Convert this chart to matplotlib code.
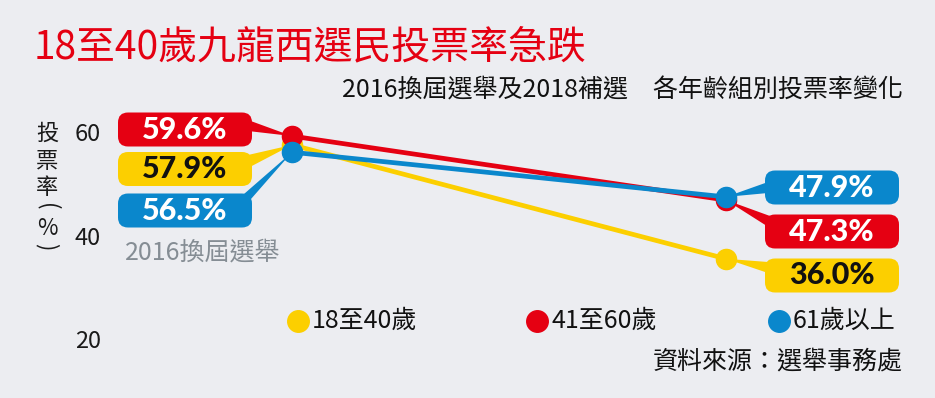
import matplotlib
matplotlib.use("Agg")
import matplotlib.pyplot as plt
from matplotlib.patches import FancyBboxPatch, Polygon

# ---- data ----
groups = ["18至40歲", "41至60歲", "61歲以上"]
colors = ["#fccf00", "#e50012", "#0a87cc"]
text_colors = ["#111111", "#ffffff", "#ffffff"]
turnout_2016 = [57.9, 59.6, 56.5]
turnout_2018 = [36.0, 47.3, 47.9]
x_pos = [0, 1]
y_ticks = [20, 40, 60]

# ---- layout helpers (pixel -> data mapping of the full-figure axes) ----
W, H = 935, 398
X0_PX, PX_PER_X = 292, 434
Y60_PX, PX_PER_Y = 134, 5.2


def dx(px):
    return (px - X0_PX) / PX_PER_X


def dy(py):
    return 60 - (py - Y60_PX) / PX_PER_Y


plt.rcParams["font.family"] = ["Noto Sans CJK TC", "DejaVu Sans"]

fig = plt.figure(figsize=(W / 100, H / 100), dpi=100, facecolor="#ecedf1")
ax = fig.add_axes([0, 0, 1, 1])
ax.set_xlim(dx(0), dx(W))
ax.set_ylim(dy(H), dy(0))
ax.axis("off")

# lines + dots
for i in range(len(groups)):
    ax.plot(x_pos, [turnout_2016[i], turnout_2018[i]], color=colors[i],
            lw=3.4, marker="o", ms=14.5, solid_capstyle="round", zorder=5 + i)


def callout(x, y, cx_px, cy_px, base_px, edge_px, i):
    w, h = 134, 34
    box = FancyBboxPatch((dx(cx_px - w / 2), dy(cy_px + h / 2)), w / PX_PER_X, h / PX_PER_Y,
                         boxstyle=f"round,pad=0,rounding_size={10 / PX_PER_X}",
                         mutation_aspect=PX_PER_X / PX_PER_Y,
                         fc=colors[i], ec="none", zorder=3)
    ax.add_patch(box)
    wedge = Polygon([(dx(edge_px), dy(base_px[0])), (dx(edge_px), dy(base_px[1])), (x, y)],
                    closed=True, fc=colors[i], ec="none", zorder=3)
    ax.add_patch(wedge)
    ax.text(dx(cx_px), dy(cy_px), f"{y:.1f}%", ha="center", va="center",
            fontsize=22, fontweight="black", family=["Lato", "DejaVu Sans"],
            color=text_colors[i], zorder=4)


# left callouts (2016)
callout(x_pos[0], turnout_2016[1], 185, 129.5, (120, 131), 248, 1)
callout(x_pos[0], turnout_2016[0], 185, 169, (155, 168), 248, 0)
callout(x_pos[0], turnout_2016[2], 185, 210.5, (194, 207), 244, 2)
# right callouts (2018)
callout(x_pos[1], turnout_2018[2], 832, 187.5, (182, 193), 768, 2)
callout(x_pos[1], turnout_2018[1], 832, 231.5, (216, 228), 770, 1)
callout(x_pos[1], turnout_2018[0], 832, 275.5, (262, 273), 768, 0)

# y ticks
for t in y_ticks:
    ax.text(dx(88), t, str(t), ha="center", va="center", fontsize=17, color="#1a1a1a")

# y label, stacked vertically (brackets turned to vertical form)
for ch, py, rot in zip(["投", "票", "率", "(", "%", ")"],
                       [133, 161, 187, 207, 228, 247],
                       [0, 0, 0, -90, 0, -90]):
    ax.text(dx(47), dy(py), ch, ha="center", va="center", fontsize=16,
            color="#1a1a1a", rotation=rot)

ax.text(dx(125), dy(252), "2016換屆選舉", ha="left", va="center", fontsize=18, color="#858d94")

# titles
ax.text(dx(34), dy(47), "18至40歲九龍西選民投票率急跌", ha="left", va="center",
        fontsize=28, color="#e50012")
ax.text(dx(903), dy(90), "2016換屆選舉及2018補選\u3000各年齡組別投票率變化", ha="right",
        va="center", fontsize=18, color="#111111", fontweight="medium")

# legend
for i, (lx, tx) in enumerate([(298, 312), (537, 551), (779, 793)]):
    ax.plot(dx(lx), dy(321), marker="o", ms=15.5, color=colors[i], ls="none")
    ax.text(dx(tx), dy(321), groups[i], ha="left", va="center", fontsize=18, color="#111111")

ax.text(dx(903), dy(361), "資料來源：選舉事務處", ha="right", va="center",
        fontsize=18, color="#111111")

fig.savefig("out.png", dpi=100, facecolor=fig.get_facecolor())
